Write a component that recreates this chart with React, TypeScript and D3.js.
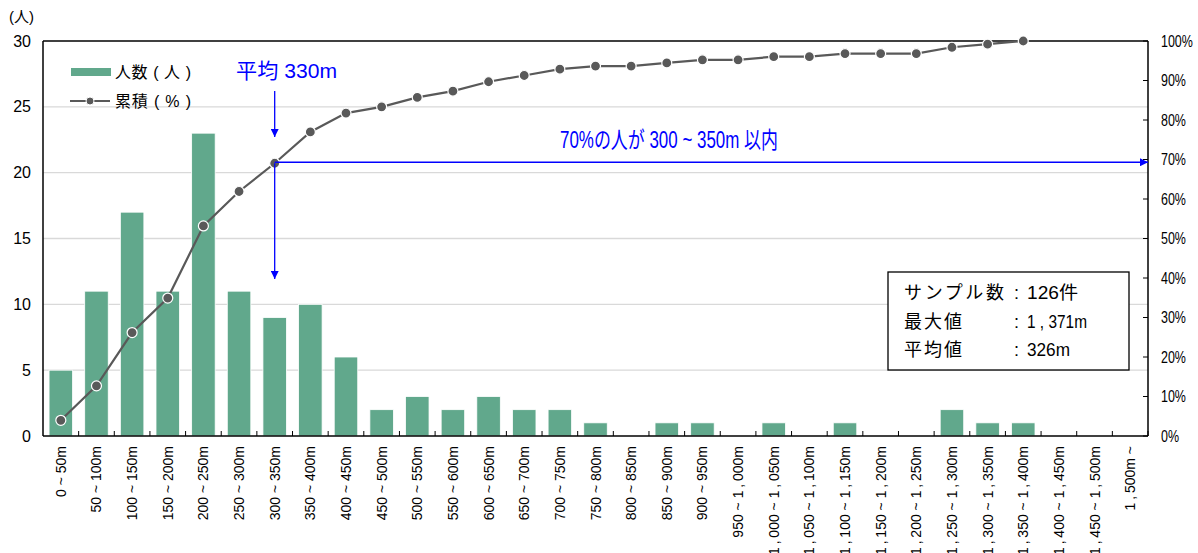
import React from "react";
import * as d3 from "d3";

const categories = [
  "0 ~ 50m", "50 ~ 100m", "100 ~ 150m", "150 ~ 200m", "200 ~ 250m", "250 ~ 300m",
  "300 ~ 350m", "350 ~ 400m", "400 ~ 450m", "450 ~ 500m", "500 ~ 550m", "550 ~ 600m",
  "600 ~ 650m", "650 ~ 700m", "700 ~ 750m", "750 ~ 800m", "800 ~ 850m", "850 ~ 900m",
  "900 ~ 950m", "950 ~ 1\u2009,\u2009000m", "1\u2009,\u2009000 ~ 1\u2009,\u2009050m", "1\u2009,\u2009050 ~ 1\u2009,\u2009100m",
  "1\u2009,\u2009100 ~ 1\u2009,\u2009150m", "1\u2009,\u2009150 ~ 1\u2009,\u2009200m", "1\u2009,\u2009200 ~ 1\u2009,\u2009250m",
  "1\u2009,\u2009250 ~ 1\u2009,\u2009300m", "1\u2009,\u2009300 ~ 1\u2009,\u2009350m", "1\u2009,\u2009350 ~ 1\u2009,\u2009400m",
  "1\u2009,\u2009400 ~ 1\u2009,\u2009450m", "1\u2009,\u2009450 ~ 1\u2009,\u2009500m", "1\u2009,\u2009500m ~",
];
const counts = [5, 11, 17, 11, 23, 11, 9, 10, 6, 2, 3, 2, 3, 2, 2, 1, 0, 1, 1, 0, 1, 0, 1, 0, 0, 2, 1, 1, 0, 0, 0];
const cumulativeLastIndex = 27;
const leftTicks = [0, 5, 10, 15, 20, 25, 30];
const rightTicks = [0, 10, 20, 30, 40, 50, 60, 70, 80, 90, 100];
const meanIndex = 6;
const legendLabels = ["人数 ( 人 )", "累積 ( % )"];
const infoNames = ["サンプル数", "最大値", "平均値"];
const infoValues = ["126件", "1 , 371m", "326m"];

const FONT = "'Liberation Sans', Arial, 'Noto Sans CJK JP', sans-serif";

export default function App() {
  const W = 1198, H = 553;
  const left = 43, right = 1148, top = 41, bottom = 436;
  const x = d3.scaleBand<string>().domain(categories).range([left, right]).paddingInner(0.34).paddingOuter(0.17);
  const step = (right - left) / categories.length;
  const yL = d3.scaleLinear().domain([0, 30]).range([bottom, top]);
  const yR = d3.scaleLinear().domain([0, 100]).range([bottom, top]);
  const total = d3.sum(counts);
  const cum: number[] = Array.from(d3.cumsum(counts), (v) => (v / total) * 100);
  const linePts: [number, number][] = cum
    .slice(0, cumulativeLastIndex + 1)
    .map((v, i) => [x(categories[i])! + x.bandwidth() / 2, yR(v)] as [number, number]);
  const line = d3.line()(linePts)!;
  const green = "#61a88c";
  const gray = "#595959";
  const blue = "#0000ff";
  const mx = x(categories[meanIndex])! + x.bandwidth() / 2;
  const my = yR(cum[meanIndex]);
  const infoNameLen = [100, 58, 58];
  const infoValLen = [51, 60, 43];
  return (
    <svg width={W} height={H} style={{ display: "block", position: "absolute", left: 0, top: 0 }} fontFamily={FONT}>
      <rect width={W} height={H} fill="#fff" />
      <defs>
        <marker id="ah" viewBox="0 0 10 10" refX="10" refY="5" markerWidth="8" markerHeight="8" orient="auto-start-reverse" markerUnits="userSpaceOnUse">
          <path d="M0,0 L10,5 L0,10 z" fill={blue} />
        </marker>
      </defs>
      {leftTicks.filter((t) => t > 0 && t < 30).map((t) => (
        <line key={t} x1={left} x2={right} y1={yL(t)} y2={yL(t)} stroke="#d9d9d9" strokeWidth={1.3} />
      ))}
      {counts.map((c, i) => c > 0 && (
        <rect key={i} x={x(categories[i])} y={yL(c)} width={x.bandwidth()} height={bottom - yL(c)} fill={green} stroke="#fff" strokeWidth={0.8} />
      ))}
      {/* frame */}
      <line x1={left} x2={right} y1={top} y2={top} stroke="#000" strokeWidth={1.3} />
      <line x1={left} x2={left} y1={top} y2={bottom} stroke="#000" strokeWidth={1.5} />
      <line x1={right} x2={right} y1={top} y2={bottom} stroke="#000" strokeWidth={1.5} />
      <line x1={left} x2={right} y1={bottom} y2={bottom} stroke="#000" strokeWidth={1.5} />
      {d3.range(1, categories.length + 1).map((i) => (
        <line key={i} x1={left + step * i} x2={left + step * i} y1={bottom} y2={bottom - 5} stroke="#000" strokeWidth={1} />
      ))}
      {rightTicks.map((t) => (
        <line key={t} x1={right - 5} x2={right} y1={yR(t)} y2={yR(t)} stroke="#000" strokeWidth={1} />
      ))}
      {/* left labels */}
      {leftTicks.map((t) => (
        <text key={t} x={31} y={yL(t)} dy="0.35em" textAnchor="end" fontSize={16} fill="#000">{t}</text>
      ))}
      <text x={9} y={22} fontSize={15} fill="#000">(人)</text>
      {rightTicks.map((t) => (
        <text key={t} transform={`translate(1161,${yR(t)}) scale(0.78,1)`} dy="0.35em" textAnchor="start" fontSize={16} fill="#000">{t}%</text>
      ))}
      {/* x labels */}
      {categories.map((c, i) => {
        const cx = x(c)! + x.bandwidth() / 2;
        return (
          <text key={c} transform={`translate(${cx + 5},446) rotate(-90)`} textAnchor="end" fontSize={14} fill="#000">{c}</text>
        );
      })}
      {/* cumulative line */}
      <path d={line} fill="none" stroke={gray} strokeWidth={2.2} />
      {linePts.map((p, i) => (
        <circle key={i} cx={p[0]} cy={p[1]} r={5} fill={gray} stroke="#fff" strokeWidth={1.2} />
      ))}
      {/* legend */}
      <rect x={71} y={68} width={40} height={8} fill={green} />
      <text x={115} y={72} dy="0.35em" fontSize={16} fill="#000" textLength={76} lengthAdjust="spacing">{legendLabels[0]}</text>
      <line x1={70} x2={110} y1={101} y2={101} stroke={gray} strokeWidth={2} />
      <circle cx={90} cy={101} r={4} fill={gray} stroke="#fff" strokeWidth={1} />
      <text x={115} y={101} dy="0.35em" fontSize={16} fill="#000" textLength={76} lengthAdjust="spacing">{legendLabels[1]}</text>
      {/* annotations */}
      <text x={236} y={78} fontSize={21} fill={blue} textLength={101} lengthAdjust="spacingAndGlyphs">平均 330m</text>
      <line x1={mx} x2={mx} y1={91} y2={137} stroke={blue} strokeWidth={1.3} markerEnd="url(#ah)" />
      <line x1={mx} x2={mx} y1={my} y2={279} stroke={blue} strokeWidth={1.3} markerEnd="url(#ah)" />
      <line x1={mx} x2={right} y1={my - 1} y2={my - 1} stroke={blue} strokeWidth={1.5} markerEnd="url(#ah)" />
      <text x={560} y={148} fontSize={23} fill={blue} textLength={218} lengthAdjust="spacingAndGlyphs">70%の人が 300 ~ 350m 以内</text>
      {/* info box */}
      <rect x={888} y={272} width={241} height={98} fill="#fff" stroke="#000" strokeWidth={1.3} />
      {infoNames.map((n, i) => {
        const yy = 293 + i * 28.5;
        return (
          <g key={i}>
            <text x={904} y={yy} dy="0.35em" fontSize={18} fill="#000" textLength={infoNameLen[i]} lengthAdjust="spacing">{n}</text>
            <text x={1014} y={yy} dy="0.35em" fontSize={18} fill="#000">:</text>
            <text x={1027} y={yy} dy="0.35em" fontSize={18} fill="#000" textLength={infoValLen[i]} lengthAdjust="spacingAndGlyphs">{infoValues[i]}</text>
          </g>
        );
      })}
    </svg>
  );
}
